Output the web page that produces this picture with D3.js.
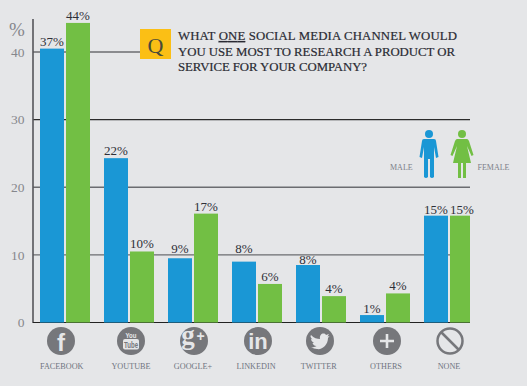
<!DOCTYPE html>
<html><head><meta charset="utf-8">
<script src="https://cdn.jsdelivr.net/npm/d3@7/dist/d3.min.js"></script>
<style>html,body{margin:0;padding:0;background:#e5e6e8}svg{display:block}</style></head>
<body><svg id="c" width="527" height="386"></svg>
<script>
const categories=["FACEBOOK","YOUTUBE","GOOGLE+","LINKEDIN","TWITTER","OTHERS","NONE"];
const maleHeights=[40.5,24.3,9.5,9,8.5,1.1,15.8];
const femaleHeights=[44.3,10.5,16.1,5.7,3.9,4.3,15.8];
const maleLabels=["37%","22%","9%","8%","8%","1%","15%"];
const femaleLabels=["44%","10%","17%","6%","4%","4%","15%"];
const yTicks=[0,10,20,30,40];
const question=["WHAT ONE SOCIAL MEDIA CHANNEL WOULD","YOU USE MOST TO RESEARCH A PRODUCT OR","SERVICE FOR YOUR COMPANY?"];
const legendNames=["MALE","FEMALE"];
const serif="'Liberation Serif',serif";
const BLUE="#1a97d5",GREEN="#72bf44",GREY="#76777b",BG="#e5e6e8";
const svg=d3.select("#c");
svg.append("rect").attr("width",527).attr("height",386).attr("fill",BG);
const y=d3.scaleLinear().domain([0,40]).range([322.5,52]);
const x=d3.scaleBand().domain(categories).range([40,488]);
const gridEnd={10:470,20:470,30:470,40:140};
svg.append("g").selectAll("line").data(yTicks.filter(d=>d>0)).join("line")
 .attr("x1",33).attr("x2",d=>gridEnd[d]).attr("y1",d=>y(d)).attr("y2",d=>y(d))
 .attr("stroke",d=>d===30?"#2b2b2b":"#6b6c70").attr("stroke-width",d=>d===30?1.1:1.4);
svg.append("line").attr("x1",33).attr("x2",33).attr("y1",19).attr("y2",323).attr("stroke","#55565a").attr("stroke-width",1.6);
svg.append("line").attr("x1",33).attr("x2",470).attr("y1",322.5).attr("y2",322.5).attr("stroke","#222").attr("stroke-width",1.2);
const axis=svg.append("g").attr("transform","translate(24.5,0)").call(d3.axisLeft(y).tickValues(yTicks).tickSize(0).tickPadding(0).tickFormat(d3.format("d")));
axis.select(".domain").remove();
axis.selectAll("text").attr("font-family",serif).attr("font-size",13.5).attr("fill","#85878c").attr("dy","0.32em");
svg.append("text").attr("x",9).attr("y",36).attr("font-family",serif).attr("font-size",19).attr("fill","#85878c").text("%");
const barW=i=>i===6?20:24;
const cols=svg.append("g").selectAll("g").data(categories).join("g").attr("transform",d=>`translate(${x(d)},0)`);
cols.append("rect").attr("width",24).attr("y",(d,i)=>y(maleHeights[i])).attr("height",(d,i)=>y(0)-y(maleHeights[i])).attr("fill",BLUE);
cols.append("rect").attr("x",26).attr("width",(d,i)=>barW(i)).attr("y",(d,i)=>y(femaleHeights[i])).attr("height",(d,i)=>y(0)-y(femaleHeights[i])).attr("fill",GREEN);
const maleGap=i=>i===3?9:i===2?5:i===4?1:i===5||i===6?2:3;
const lab=(vals,hs,cx,gap)=>cols.append("text").attr("x",cx).attr("y",(d,i)=>y(hs[i])-gap(i)).attr("text-anchor","middle").attr("font-family",serif).attr("font-size",13).attr("fill","#2f3038").text((d,i)=>vals[i]);
lab(maleLabels,maleHeights,12,maleGap);
lab(femaleLabels,femaleHeights,38,i=>i===6?2:3);
// icons
const iconX=[61,131,194,258,320,387,450];
const labelShift=[0.7,0,-1,-2,-1.3,-1,-1];
const ic=svg.append("g").selectAll("g").data(categories).join("g").attr("transform",(d,i)=>`translate(${iconX[i]},341)`);
ic.append("circle").attr("r",(d,i)=>i===6?12.5:14).attr("fill",(d,i)=>i===6?"none":GREY).attr("stroke",(d,i)=>i===6?GREY:"none").attr("stroke-width",2.5);
const g=i=>ic.filter((d,j)=>j===i);
const sans="'Liberation Sans',sans-serif";
g(0).append("text").attr("text-anchor","middle").attr("y",10).attr("font-family",sans).attr("font-weight",700).attr("font-size",24).attr("fill",BG).text("f");
g(1).append("text").attr("text-anchor","middle").attr("y",-3).attr("font-family",sans).attr("font-weight",700).attr("font-size",8).attr("textLength",11).attr("lengthAdjust","spacingAndGlyphs").attr("fill",BG).text("You");
g(1).append("rect").attr("x",-8).attr("y",-2).attr("width",16).attr("height",10.5).attr("rx",2).attr("fill",BG);
g(1).append("text").attr("text-anchor","middle").attr("y",7).attr("font-family",sans).attr("font-weight",700).attr("font-size",8.5).attr("textLength",14).attr("lengthAdjust","spacingAndGlyphs").attr("fill",GREY).text("Tube");
g(2).append("text").attr("x",-6).attr("text-anchor","middle").attr("y",3).attr("font-family",serif).attr("font-weight",700).attr("font-size",27).attr("fill",BG).text("g");
g(2).append("text").attr("x",6.5).attr("text-anchor","middle").attr("y",0).attr("font-family",sans).attr("font-weight",700).attr("font-size",14).attr("fill",BG).text("+");
g(3).append("text").attr("text-anchor","middle").attr("y",7.5).attr("font-family",sans).attr("font-weight",700).attr("font-size",22).attr("fill",BG).text("in");
g(4).append("path").attr("d","M-9,-6 C-6,-3 -3,-2 0,-2 C-1,-7 4,-9 6,-6 L9,-7 L7.5,-4.5 L9.5,-5 L8,-3 C8,4 2,9 -3,8 C-5,8 -7,7 -9,6 C-6,6.5 -5,6 -3.5,5 C-6,5 -7,3 -7.5,2 L-6,2 C-8,1 -9,-1 -9,-2 L-7.5,-1.5 C-9.5,-3 -10,-5 -9,-6 Z").attr("fill",BG);
g(5).append("path").attr("d","M-7,0H7M0,-7V7").attr("stroke",BG).attr("stroke-width",2.6);
g(6).append("line").attr("x1",-8.5).attr("y1",-8.5).attr("x2",8.5).attr("y2",8.5).attr("stroke",GREY).attr("stroke-width",2.5);
ic.append("text").attr("x",(d,i)=>labelShift[i]).attr("y",28).attr("text-anchor","middle").attr("font-family",serif).attr("font-size",8.2).attr("fill","#6f7480").text(d=>d);
// question
svg.append("rect").attr("x",140).attr("y",29).attr("width",31).attr("height",30).attr("fill","#fbbf15");
svg.append("text").attr("x",155.5).attr("y",53).attr("text-anchor","middle").attr("font-family",serif).attr("font-size",22).attr("fill","#4a4a3a").text("Q");
const lineW=[279,277,189];
const q=svg.append("g").selectAll("text").data(question).join("text").attr("x",178).attr("y",(d,i)=>40+i*15.7).attr("font-family",serif).attr("font-size",12.8).attr("fill","#2a2b33").attr("stroke","#2a2b33").attr("stroke-width",0.2).attr("textLength",(d,i)=>lineW[i]).attr("lengthAdjust","spacing");
q.each(function(d,i){const t=d3.select(this);
 if(i===0){const p=d.split("ONE");t.append("tspan").text(p[0]);t.append("tspan").attr("text-decoration","underline").text("ONE");t.append("tspan").text(p[1]);}
 else t.text(d);});
// legend
const person=svg.append("g").attr("fill",BLUE).attr("transform","translate(429,0)");
person.append("circle").attr("cy",134).attr("r",4);
person.append("path").attr("d","M-7,141 Q-7,139 -5,139 H5 Q7,139 7,141 L9.5,157 L7,158 L5,147 L5,177 Q3,179 1,177 L1,159 H-1 L-1,177 Q-3,179 -5,177 L-5,147 L-7,158 L-9.5,157 Z");
const fem=svg.append("g").attr("fill",GREEN).attr("transform","translate(462,0)");
fem.append("circle").attr("cy",134).attr("r",4);
fem.append("path").attr("d","M-5,139 H5 Q6,139 7,141 L11.5,155 L9.5,156 L5,146 L9,163 H4 L4,178 H1 V163 H-1 V178 H-4 L-4,163 H-9 L-5,146 L-9.5,156 L-11.5,155 L-7,141 Q-6,139 -5,139 Z");
svg.append("g").selectAll("text").data(legendNames).join("text").attr("x",(d,i)=>i?477.5:390).attr("y",170).attr("font-family",serif).attr("font-size",8).attr("fill","#7c7f88").text(d=>d);
</script></body></html>
